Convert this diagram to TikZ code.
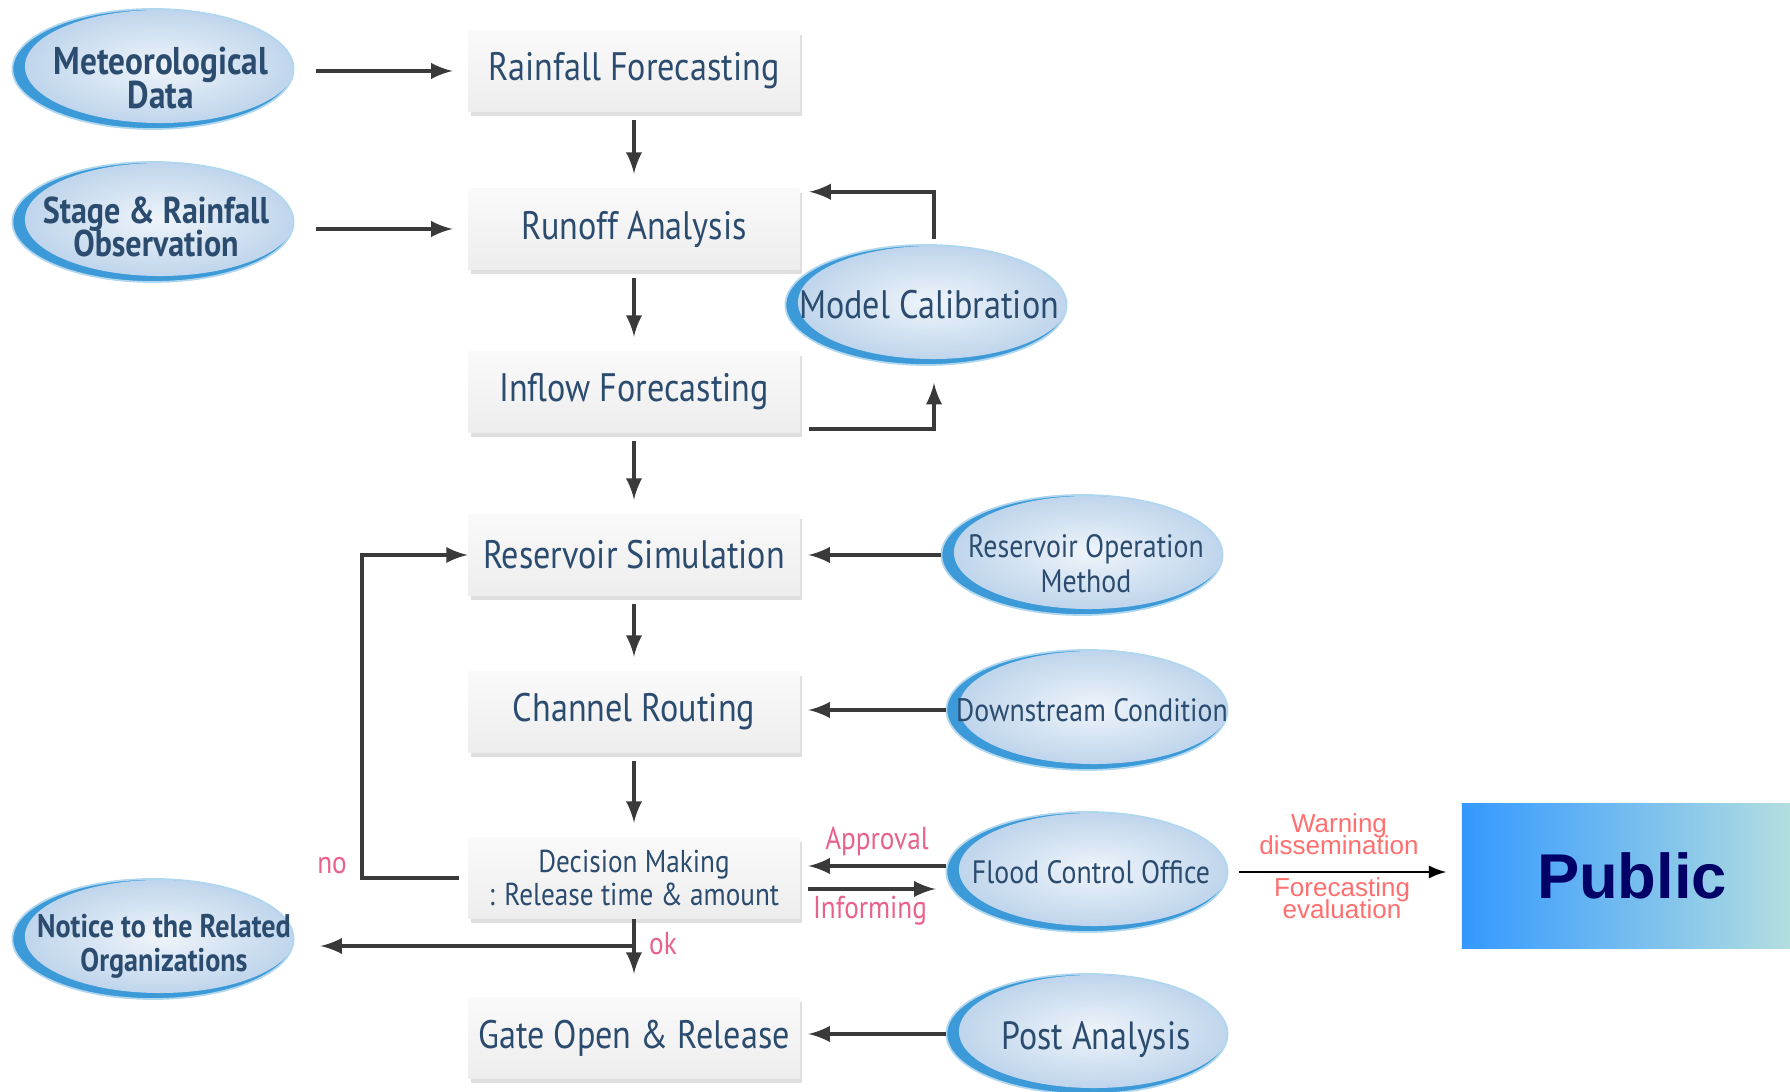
\documentclass[tikz,border=0pt]{standalone}
\usepackage{fontspec}
\usepackage{tikz}
\usetikzlibrary{shapes.geometric,shadows}
\setmainfont{Liberation Sans}
\newfontfamily\dgfont[FakeStretch=0.86]{PT Sans}
\newcommand\tightlines{\lineskiplimit=-5pt\relax}
\definecolor{txtblue}{HTML}{2B4C6F}
\definecolor{ellblue}{HTML}{3C9AD8}
\definecolor{ellfill}{HTML}{BFD5EC}
\definecolor{linkgray}{HTML}{3A3A3A}
\definecolor{pinklbl}{HTML}{E8628C}
\definecolor{redlbl}{HTML}{FF6F6F}
\definecolor{publeft}{HTML}{3399FF}
\definecolor{pubright}{HTML}{B3DEE0}
\definecolor{pubtxt}{HTML}{000066}

\begin{document}
\begin{tikzpicture}[x=0.01cm, y=-0.01cm,
    proc/.style={rectangle, minimum width=3.31cm, minimum height=0.81cm, inner sep=2pt,
        top color=gray!4, bottom color=gray!14, align=center, text=txtblue,
        font=\dgfont\fontsize{11.3}{12}\selectfont,
        drop shadow={shadow xshift=0.8pt, shadow yshift=-1.2pt, opacity=0.25}},
    src/.style={ellipse, minimum width=2.81cm, minimum height=1.2cm, inner sep=0pt,
        draw=ellblue!40, line width=0.5pt,
        path picture={
            \fill[ellblue] (path picture bounding box.south west) rectangle (path picture bounding box.north east);
            \shade[inner color=ellfill!25!white, outer color=ellfill]
                ([xshift=0.07cm, yshift=0.025cm]path picture bounding box.center) ellipse (1.35cm and 0.565cm);
        }},
    srctxt/.style={text=txtblue, align=center, inner sep=0pt,
        font=\dgfont\fontsize{9.2}{10}\selectfont\tightlines},
    boldtxt/.style={srctxt, font=\dgfont\bfseries\fontsize{#1}{9.6}\selectfont\tightlines},
    link/.style={draw=linkgray, line width=1.1pt, -latex},
    lbl/.style={text=pinklbl, font=\dgfont\fontsize{9}{10}\selectfont},
    note/.style={text=redlbl, align=center, font=\fontsize{7.4}{6.2}\selectfont\tightlines}]
    \useasboundingbox (0,0) rectangle (1790,1092);

    % main chain
    \node[proc] (rain)    at (634,71)   {Rainfall Forecasting};
    \node[proc] (runoff)  at (634,229)  {Runoff Analysis};
    \node[proc] (inflow)  at (634,392)  {Inflow Forecasting};
    \node[proc] (ressim)  at (634,555)  {Reservoir Simulation};
    \node[proc] (channel) at (634,712)  {Channel Routing};
    \node[proc, font=\dgfont\fontsize{9}{9.5}\selectfont] (decide) at (634,878)
        {Decision Making\\: Release time \& amount};
    \node[proc] (gate)    at (634,1038) {Gate Open \& Release};

    % inputs
    \node[src, label={[boldtxt=11, xshift=0.08cm, yshift=-0.09cm]center:Meteorological\\Data}] (met) at (153,69) {};
    \node[src, label={[boldtxt=10.6, xshift=0.03cm, yshift=-0.05cm]center:Stage \& Rainfall\\Observation}] (stage) at (153,222) {};
    \node[src, label={[boldtxt=9.3, xshift=0.11cm, yshift=-0.07cm]center:Notice to the Related\\Organizations}] (notice) at (153,939) {};
    \node[src, label={[srctxt, xshift=0.03cm, font=\dgfont\fontsize{11.3}{12}\selectfont]center:Model Calibration}] (model) at (926,305) {};
    \node[src, label={[srctxt, xshift=0.04cm, yshift=-0.085cm]center:Reservoir Operation\\Method}] (resop) at (1082,555) {};
    \node[src, label={[srctxt, xshift=0.05cm]center:Downstream Condition}] (down) at (1087,710) {};
    \node[src, label={[srctxt, xshift=0.04cm]center:Flood Control Office}] (fco) at (1087,872) {};
    \node[src, label={[srctxt, xshift=0.09cm, yshift=-0.06cm, font=\dgfont\fontsize{11.2}{12}\selectfont]center:Post Analysis}] (post) at (1087,1034) {};

    \node[rectangle, minimum width=3.28cm, minimum height=1.45cm, left color=publeft, right color=pubright,
        text=pubtxt, font=\bfseries\fontsize{18}{20}\selectfont] (public) at (1626,876) {\hspace*{0.12cm}Public};

    % connectors
    \draw[link, shorten <=0.22cm, shorten >=0.15cm] (met.east |- rain.west) -- (rain.west);
    \draw[link, shorten <=0.22cm, shorten >=0.15cm] (stage.east |- runoff.west) -- (runoff.west);
    \foreach \a/\b in {rain/runoff, runoff/inflow, inflow/ressim, ressim/channel, channel/decide}
        \draw[link, shorten <=0.08cm, shorten >=0.14cm] (\a.south) -- (\b.north);
    \draw[link, shorten <=0.09cm, shorten >=0.17cm] ([yshift=0.04cm]inflow.south east) -| ([xshift=0.08cm]model.south);
    \draw[link, shorten <=0.05cm, shorten >=0.09cm] ([xshift=0.08cm]model.north) |- ([yshift=-0.04cm]runoff.north east);
    \draw[link, shorten >=0.08cm] (resop.west) -- (resop.west -| ressim.east);
    \draw[link, shorten >=0.08cm] (down.west) -- (down.west -| channel.east);
    \draw[link, shorten >=0.08cm] (post.west) -- (post.west -| gate.east);
    \draw[link, shorten >=0.08cm] ([yshift=0.06cm]fco.west) -- ([yshift=0.06cm]fco.west -| decide.east);
    \draw[link, shorten <=0.08cm, shorten >=0.1cm] ([yshift=-0.17cm]fco.west -| decide.east) -- ([yshift=-0.17cm]fco.west);
    \draw[link, shorten <=0.09cm] (decide.west) -- ++(-106,0) |- (ressim.west);
    \draw[link, shorten >=0.23cm] (decide.south) -- (gate.north);
    \coordinate (okpt) at (634,946);
    \draw[link, shorten >=0.26cm] (okpt) -- (okpt -| notice.east);
    \draw[black, line width=0.7pt, -latex, shorten <=0.11cm, shorten >=0.15cm] (fco.east) -- (fco.east -| public.west);

    % labels
    \node[lbl] (approval)  at (877,841) {Approval};
    \node[lbl] (informing) at (870,911) {Informing};
    \node[lbl] (nolbl) at (332,866) {no};
    \node[lbl] (oklbl) at (663,944) {ok};
    \node[note] (warn) at (1339,834) {Warning\\dissemination};
    \node[note] (fceval) at (1342,898) {Forecasting\\evaluation};
\end{tikzpicture}
\end{document}
